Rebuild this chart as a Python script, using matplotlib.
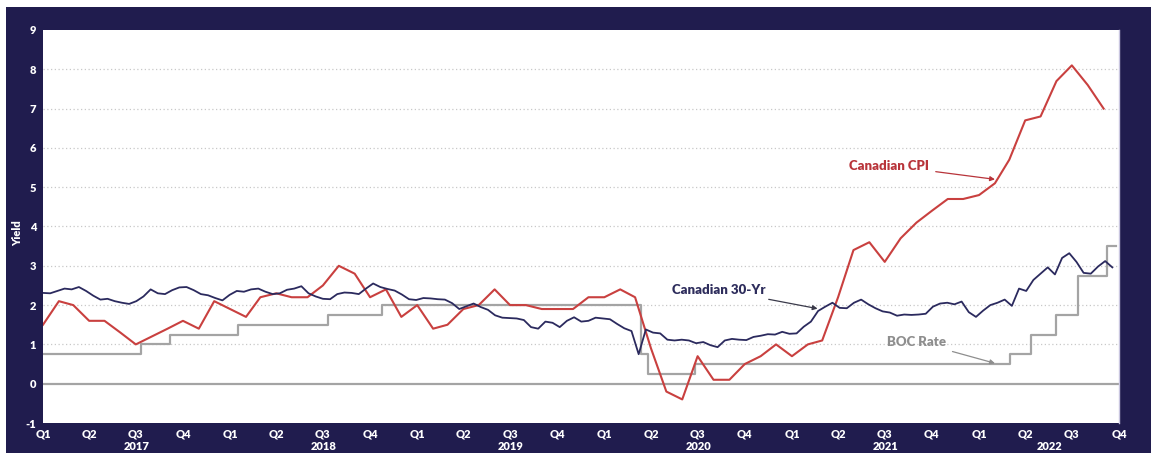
import matplotlib
matplotlib.use("Agg")
import matplotlib.pyplot as plt
from matplotlib.patches import Rectangle
from matplotlib.transforms import blended_transform_factory
import pandas as pd

# ---------------- data ----------------
# Canadian 30-yr yield, bi-weekly readings starting 2017-01-01
yield_start = "2017-01-01"
yield_30yr = [
    2.31, 2.30, 2.36, 2.42, 2.40, 2.46, 2.36, 2.24, 2.14, 2.16,
    2.10, 2.06, 2.03, 2.10, 2.22, 2.40, 2.30, 2.28, 2.38, 2.45,
    2.46, 2.38, 2.28, 2.25, 2.18, 2.12,
    2.26, 2.36, 2.34, 2.40, 2.42, 2.34, 2.28, 2.30, 2.39, 2.42,
    2.48, 2.30, 2.22, 2.16, 2.15, 2.28, 2.32, 2.31, 2.28, 2.42,
    2.55, 2.46, 2.41, 2.37, 2.27, 2.15,
    2.13, 2.18, 2.17, 2.15, 2.14, 2.05, 1.90, 1.97, 2.04, 1.95,
    1.88, 1.74, 1.68, 1.67, 1.66, 1.62, 1.44, 1.40, 1.58, 1.55,
    1.44, 1.60, 1.69, 1.58, 1.60, 1.68,
    1.66, 1.64, 1.52, 1.41, 1.34, 0.75, 1.38, 1.30, 1.28, 1.12,
    1.10, 1.12, 1.10, 1.03, 1.06, 0.98, 0.93, 1.10, 1.14, 1.12,
    1.11, 1.19, 1.22, 1.26, 1.25, 1.32,
    1.27, 1.28, 1.45, 1.58, 1.85, 1.96, 2.06, 1.93, 1.92, 2.06,
    2.14, 2.02, 1.92, 1.84, 1.81, 1.73, 1.76, 1.75, 1.76, 1.78,
    1.96, 2.04, 2.06, 2.02, 2.09, 1.82,
    1.70, 1.86, 2.00, 2.06, 2.14, 1.98, 2.42, 2.36, 2.64, 2.80,
    2.96, 2.78, 3.20, 3.32, 3.10, 2.82, 2.80, 2.98, 3.12, 2.96,
]

# Canadian CPI y/y (plotted at the start of the following month)
cpi_start = "2017-01-01"
cpi_values = [
    1.5,
    2.1, 2.0, 1.6, 1.6, 1.3, 1.0, 1.2, 1.4, 1.6, 1.4, 2.1, 1.9,
    1.7, 2.2, 2.3, 2.2, 2.2, 2.5, 3.0, 2.8, 2.2, 2.4, 1.7, 2.0,
    1.4, 1.5, 1.9, 2.0, 2.4, 2.0, 2.0, 1.9, 1.9, 1.9, 2.2, 2.2,
    2.4, 2.2, 0.9, -0.2, -0.4, 0.7, 0.1, 0.1, 0.5, 0.7, 1.0, 0.7,
    1.0, 1.1, 2.2, 3.4, 3.6, 3.1, 3.7, 4.1, 4.4, 4.7, 4.7, 4.8,
    5.1, 5.7, 6.7, 6.8, 7.7, 8.1, 7.6, 7.0,
]

# BOC rate step changes
boc_dates = ["2017-01-01", "2017-07-12", "2017-09-06", "2018-01-17", "2018-07-11",
             "2018-10-24", "2020-03-13", "2020-03-27", "2020-06-26", "2022-03-02",
             "2022-04-13", "2022-06-01", "2022-07-13", "2022-09-07", "2022-09-25"]
boc_values = [0.75, 1.0, 1.25, 1.5, 1.75, 2.0, 0.75, 0.25, 0.5, 0.75,
              1.25, 1.75, 2.75, 3.5, 3.5]

years = [2017, 2018, 2019, 2020, 2021, 2022]
quarter_labels = ["Q1", "Q2", "Q3", "Q4"]
y_ticks = list(range(-1, 10))

# ---------------- styling ----------------
NAVY_BG = "#201c4e"
NAVY_LINE = "#2b2a5e"
RED = "#c9403f"
GRAY = "#a4a4a4"
FONT = "Lato"

W, H = 1151, 453
fig = plt.figure(figsize=(W / 100, H / 100), dpi=100, facecolor="white")
bg = Rectangle((6 / W, 0), 1 - 6 / W, 1 - 7 / H, transform=fig.transFigure,
               facecolor=NAVY_BG, edgecolor="none", zorder=-10)
fig.patches.append(bg)

left, right, top, bottom = 43, 1119, 30, 423
ax = fig.add_axes([left / W, 1 - bottom / H, (right - left) / W, (bottom - top) / H])
ax.set_zorder(5)
ax.set_facecolor("white")

yd = pd.date_range(yield_start, periods=len(yield_30yr), freq="14D")
cd = pd.date_range(cpi_start, periods=len(cpi_values), freq="MS")
bd = pd.to_datetime(boc_dates)

xmin = pd.Timestamp("2017-01-01")
xmax = pd.Timestamp("2022-10-01")

for yv in range(1, 9):
    ax.axhline(yv, color="#c8c8c8", lw=0.9, linestyle=(0, (1, 2)), zorder=1)
ax.axhline(0, color=GRAY, lw=1.6, zorder=2)

ax.plot(bd, boc_values, drawstyle="steps-post", color=GRAY, lw=1.6, zorder=3)
ax.plot(cd, cpi_values, color=RED, lw=1.5, zorder=4)
ax.plot(yd, yield_30yr, color=NAVY_LINE, lw=1.3, zorder=5)

ax.set_xlim(xmin, xmax)
ax.set_ylim(-1, 9)
ax.set_yticks(y_ticks)
ax.set_yticklabels([str(v) for v in y_ticks])

qticks = pd.date_range(xmin, xmax, freq="QS")
ax.set_xticks(qticks)
ax.set_xticklabels([quarter_labels[(d.month - 1) // 3] for d in qticks])

for s in ax.spines.values():
    s.set_visible(False)
ax.spines["right"].set_visible(True)
ax.spines["right"].set_color("#c9c6e0")
ax.spines["right"].set_linewidth(1)

ax.tick_params(axis="both", length=0, colors="white", labelsize=8)
ax.tick_params(axis="x", pad=4)
ax.tick_params(axis="y", pad=5)
for lbl in ax.get_xticklabels() + ax.get_yticklabels():
    lbl.set_fontfamily(FONT)
    lbl.set_fontweight("heavy")

fig.text(18 / W, 1 - 233 / H, "Yield", rotation=90, ha="center", va="center",
         color="white", fontsize=8, fontfamily=FONT, fontweight="heavy")

trans = blended_transform_factory(ax.transData, ax.transAxes)
for yr in years:
    s = pd.Timestamp(f"{yr}-01-01")
    e = min(pd.Timestamp(f"{yr + 1}-01-01"), xmax)
    mid = s + (e - s) / 2
    ax.text(mid, -0.061, str(yr), transform=trans, ha="center", va="center",
            color="white", fontsize=8, fontfamily=FONT, fontweight="heavy")

# annotations
ax.annotate("Canadian CPI", xy=(pd.Timestamp("2022-02-01"), 5.2),
            xytext=(pd.Timestamp("2021-09-25"), 5.55), ha="right", va="center",
            color="#b8343a", fontsize=9.5, fontfamily=FONT, fontweight="heavy",
            arrowprops=dict(arrowstyle="-|>", color="#b8343a", lw=0.9, mutation_scale=7,
                            shrinkA=3, shrinkB=0), zorder=6)
ax.annotate("Canadian 30-Yr", xy=(pd.Timestamp("2021-02-20"), 1.91),
            xytext=(pd.Timestamp("2020-11-10"), 2.39), ha="right", va="center",
            color="#2e2d5c", fontsize=9.5, fontfamily=FONT, fontweight="heavy",
            arrowprops=dict(arrowstyle="-|>", color="#3a3a4a", lw=0.9, mutation_scale=7,
                            shrinkA=3, shrinkB=0), zorder=6)
ax.annotate("BOC Rate", xy=(pd.Timestamp("2022-02-01"), 0.52),
            xytext=(pd.Timestamp("2021-10-29"), 1.07), ha="right", va="center",
            color="#8e8e8e", fontsize=9.5, fontfamily=FONT, fontweight="heavy",
            arrowprops=dict(arrowstyle="-|>", color="#8e8e8e", lw=0.9, mutation_scale=7,
                            shrinkA=3, shrinkB=0), zorder=6)

fig.savefig("out.png", dpi=100, facecolor=fig.get_facecolor())
